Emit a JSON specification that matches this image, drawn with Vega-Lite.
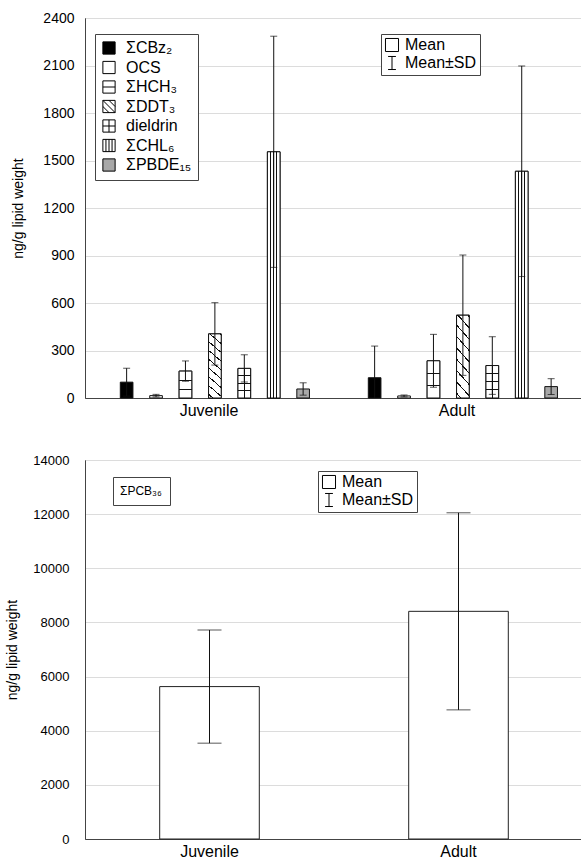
{
  "$schema": "https://vega.github.io/schema/vega-lite/v6.json",
  "padding": {"left": 5, "top": 10, "right": 0, "bottom": 0},
  "background": "white",
  "config": {
    "font": "Liberation Sans",
    "view": {"stroke": "#444", "strokeWidth": 1},
    "axis": {"labelFont": "Liberation Sans", "titleFont": "Liberation Sans", "labelColor": "#000", "titleColor": "#000", "domainColor": "#444", "titleFontWeight": "normal", "gridColor": "#dcdcdc", "ticks": false},
    "legend": {"labelFont": "Liberation Sans", "labelColor": "#000", "strokeColor": "#444", "fillColor": "white"}
  },
  "columns": 1,
  "spacing": 34,
  "align": "none",
  "resolve": {"scale": {"fill": "independent", "shape": "independent"}, "legend": {"fill": "independent", "shape": "independent"}},
  "concat": [
    {
      "width": 496,
      "height": 380,
      "data": {"values": [
        {"group": "Juvenile", "compound": "ΣCBz₂", "mean": 100, "lo": 12, "hi": 188},
        {"group": "Juvenile", "compound": "OCS", "mean": 15, "lo": 7, "hi": 23},
        {"group": "Juvenile", "compound": "ΣHCH₃", "mean": 170, "lo": 106, "hi": 234},
        {"group": "Juvenile", "compound": "ΣDDT₃", "mean": 405, "lo": 208, "hi": 602},
        {"group": "Juvenile", "compound": "dieldrin", "mean": 187, "lo": 101, "hi": 273},
        {"group": "Juvenile", "compound": "ΣCHL₆", "mean": 1555, "lo": 825, "hi": 2285},
        {"group": "Juvenile", "compound": "ΣPBDE₁₅", "mean": 57, "lo": 18, "hi": 96},
        {"group": "Adult", "compound": "ΣCBz₂", "mean": 128, "lo": 0, "hi": 328},
        {"group": "Adult", "compound": "OCS", "mean": 13, "lo": 7, "hi": 19},
        {"group": "Adult", "compound": "ΣHCH₃", "mean": 235, "lo": 68, "hi": 402},
        {"group": "Adult", "compound": "ΣDDT₃", "mean": 523, "lo": 143, "hi": 903},
        {"group": "Adult", "compound": "dieldrin", "mean": 205, "lo": 23, "hi": 387},
        {"group": "Adult", "compound": "ΣCHL₆", "mean": 1432, "lo": 767, "hi": 2097},
        {"group": "Adult", "compound": "ΣPBDE₁₅", "mean": 72, "lo": 22, "hi": 122}
      ]},
      "resolve": {"scale": {"shape": "independent", "fill": "independent"}, "legend": {"shape": "independent", "fill": "independent"}},
      "layer": [
        {
          "encoding": {
            "x": {"field": "group", "type": "nominal", "sort": ["Juvenile", "Adult"], "scale": {"paddingInner": 0, "paddingOuter": 0}, "axis": {"title": null, "labelAngle": 0, "labelFontSize": 16, "labelPadding": 4, "grid": false}},
            "xOffset": {"field": "compound", "type": "nominal", "scale": {"domain": ["ΣCBz₂", "OCS", "ΣHCH₃", "ΣDDT₃", "dieldrin", "ΣCHL₆", "ΣPBDE₁₅"], "paddingInner": 0.57, "paddingOuter": 1.06, "align": 0.6}},
            "y": {"field": "mean", "type": "quantitative", "title": "ng/g lipid weight", "scale": {"domain": [0, 2400], "nice": false}, "axis": {"values": [0, 300, 600, 900, 1200, 1500, 1800, 2100, 2400], "format": "d", "grid": true, "labelFontSize": 14, "titleFontSize": 14, "labelPadding": 11, "titlePadding": 17}}
          },
          "layer": [
            {
              "mark": {"type": "bar", "stroke": "#111", "strokeWidth": 1},
              "encoding": {
                "fill": {"field": "compound", "type": "nominal",
                  "scale": {"domain": ["ΣCBz₂", "OCS", "ΣHCH₃", "ΣDDT₃", "dieldrin", "ΣCHL₆", "ΣPBDE₁₅"], "range": ["#000000", "#ffffff", "#ffffff", "#ffffff", "#ffffff", "#ffffff", "#a8a8a8"]},
                  "legend": {"title": null, "orient": "none", "legendX": 10, "legendY": 16, "symbolSize": 150, "symbolStrokeColor": "#000", "symbolStrokeWidth": 1, "symbolFillColor": "white", "symbolOpacity": 1, "rowPadding": 1.5, "labelOffset": 9, "padding": 6, "labelFontSize": 16}}
              }
            },
            {
              "transform": [{"filter": {"field": "compound", "equal": "ΣHCH₃"}}],
              "mark": {"type": "bar", "stroke": "#111", "strokeWidth": 1,
                "fill": {"gradient": "linear", "x1": 0, "y1": 0, "x2": 0, "y2": 1, "stops": [
                  {"offset": 0, "color": "#fff"}, {"offset": 0.324, "color": "#fff"}, {"offset": 0.324, "color": "#111"}, {"offset": 0.356, "color": "#111"}, {"offset": 0.356, "color": "#fff"},
                  {"offset": 0.654, "color": "#fff"}, {"offset": 0.654, "color": "#111"}, {"offset": 0.686, "color": "#111"}, {"offset": 0.686, "color": "#fff"}, {"offset": 1, "color": "#fff"}]}}
            },
            {
              "transform": [{"filter": {"field": "compound", "equal": "dieldrin"}}],
              "mark": {"type": "bar", "stroke": "#111", "strokeWidth": 1,
                "fill": {"gradient": "linear", "x1": 0, "y1": 0, "x2": 0, "y2": 1, "stops": [
                  {"offset": 0, "color": "#fff"}, {"offset": 0.234, "color": "#fff"}, {"offset": 0.234, "color": "#111"}, {"offset": 0.266, "color": "#111"}, {"offset": 0.266, "color": "#fff"},
                  {"offset": 0.484, "color": "#fff"}, {"offset": 0.484, "color": "#111"}, {"offset": 0.516, "color": "#111"}, {"offset": 0.516, "color": "#fff"},
                  {"offset": 0.734, "color": "#fff"}, {"offset": 0.734, "color": "#111"}, {"offset": 0.766, "color": "#111"}, {"offset": 0.766, "color": "#fff"}, {"offset": 1, "color": "#fff"}]}}
            },
            {
              "transform": [{"filter": {"field": "compound", "equal": "dieldrin"}}],
              "mark": {"type": "bar", "strokeWidth": 0,
                "fill": {"gradient": "linear", "x1": 0, "y1": 0, "x2": 1, "y2": 0, "stops": [
                  {"offset": 0, "color": "rgba(0,0,0,0)"}, {"offset": 0.46, "color": "rgba(0,0,0,0)"}, {"offset": 0.46, "color": "#111"}, {"offset": 0.54, "color": "#111"}, {"offset": 0.54, "color": "rgba(0,0,0,0)"}, {"offset": 1, "color": "rgba(0,0,0,0)"}]}}
            },
            {
              "transform": [{"filter": {"field": "compound", "equal": "ΣCHL₆"}}],
              "mark": {"type": "bar", "stroke": "#111", "strokeWidth": 1,
                "fill": {"gradient": "linear", "x1": 0, "y1": 0, "x2": 1, "y2": 0, "stops": [
                  {"offset": 0, "color": "#fff"}, {"offset": 0.23, "color": "#fff"}, {"offset": 0.23, "color": "#111"}, {"offset": 0.31, "color": "#111"}, {"offset": 0.31, "color": "#fff"},
                  {"offset": 0.46, "color": "#fff"}, {"offset": 0.46, "color": "#111"}, {"offset": 0.54, "color": "#111"}, {"offset": 0.54, "color": "#fff"},
                  {"offset": 0.69, "color": "#fff"}, {"offset": 0.69, "color": "#111"}, {"offset": 0.77, "color": "#111"}, {"offset": 0.77, "color": "#fff"}, {"offset": 1, "color": "#fff"}]}}
            },
            {
              "transform": [{"filter": {"field": "compound", "equal": "ΣDDT₃"}}],
              "mark": {"type": "bar", "stroke": "#111", "strokeWidth": 1,
                "fill": {"gradient": "linear", "x1": 0, "y1": 1, "x2": 0.195, "y2": -0.138, "stops": [
                  {"offset": 0, "color": "#fff"},
                  {"offset": 0.042, "color": "#fff"}, {"offset": 0.042, "color": "#111"}, {"offset": 0.058, "color": "#111"}, {"offset": 0.058, "color": "#fff"},
                  {"offset": 0.159, "color": "#fff"}, {"offset": 0.159, "color": "#111"}, {"offset": 0.175, "color": "#111"}, {"offset": 0.175, "color": "#fff"},
                  {"offset": 0.276, "color": "#fff"}, {"offset": 0.276, "color": "#111"}, {"offset": 0.292, "color": "#111"}, {"offset": 0.292, "color": "#fff"},
                  {"offset": 0.393, "color": "#fff"}, {"offset": 0.393, "color": "#111"}, {"offset": 0.409, "color": "#111"}, {"offset": 0.409, "color": "#fff"},
                  {"offset": 0.510, "color": "#fff"}, {"offset": 0.510, "color": "#111"}, {"offset": 0.526, "color": "#111"}, {"offset": 0.526, "color": "#fff"},
                  {"offset": 0.627, "color": "#fff"}, {"offset": 0.627, "color": "#111"}, {"offset": 0.643, "color": "#111"}, {"offset": 0.643, "color": "#fff"},
                  {"offset": 0.744, "color": "#fff"}, {"offset": 0.744, "color": "#111"}, {"offset": 0.760, "color": "#111"}, {"offset": 0.760, "color": "#fff"},
                  {"offset": 0.861, "color": "#fff"}, {"offset": 0.861, "color": "#111"}, {"offset": 0.877, "color": "#111"}, {"offset": 0.877, "color": "#fff"},
                  {"offset": 0.978, "color": "#fff"}, {"offset": 0.978, "color": "#111"}, {"offset": 0.994, "color": "#111"}, {"offset": 0.994, "color": "#fff"},
                  {"offset": 1, "color": "#fff"}]}}
            },
            {
              "mark": {"type": "rule", "color": "#111", "strokeWidth": 1},
              "encoding": {"y": {"field": "lo", "type": "quantitative", "title": "ng/g lipid weight"}, "y2": {"field": "hi"}}
            },
            {
              "mark": {"type": "tick", "color": "#111", "size": 7, "thickness": 1},
              "encoding": {"y": {"field": "hi", "type": "quantitative", "title": "ng/g lipid weight"}}
            },
            {
              "transform": [{"filter": "datum.lo > 0"}],
              "mark": {"type": "tick", "color": "#111", "size": 7, "thickness": 1},
              "encoding": {"y": {"field": "lo", "type": "quantitative", "title": "ng/g lipid weight"}}
            },
            {
              "mark": {"type": "point", "opacity": 0, "filled": true},
              "encoding": {
                "fill": {"field": "compound", "type": "nominal",
                  "scale": {"domain": ["ΣCBz₂", "OCS", "ΣHCH₃", "ΣDDT₃", "dieldrin", "ΣCHL₆", "ΣPBDE₁₅"], "range": ["#000000", "#ffffff", "#ffffff", "#ffffff", "#ffffff", "#ffffff", "#a8a8a8"]},
                  "legend": {"title": null, "orient": "none", "legendX": 10, "legendY": 16, "symbolSize": 150, "symbolStrokeColor": "#000", "symbolStrokeWidth": 1, "symbolFillColor": "white", "symbolOpacity": 1, "rowPadding": 1.5, "labelOffset": 9, "padding": 6, "labelFontSize": 16}},
                "shape": {"field": "compound", "type": "nominal",
                  "scale": {"domain": ["ΣCBz₂", "OCS", "ΣHCH₃", "ΣDDT₃", "dieldrin", "ΣCHL₆", "ΣPBDE₁₅"],
                    "range": ["square", "square", "M-1,-1H1V1H-1ZM-1,0H1", "M-1,-1H1V1H-1ZM-1,-1L1,1M-1,0L0,1M0,-1L1,0", "M-1,-1H1V1H-1ZM-1,0H1M0,-1V1", "M-1,-1H1V1H-1ZM-0.5,-1V1M0,-1V1M0.5,-1V1", "square"]},
                  "legend": {"title": null, "orient": "none", "legendX": 10, "legendY": 16, "symbolSize": 150, "symbolStrokeColor": "#000", "symbolStrokeWidth": 1, "symbolFillColor": "white", "symbolOpacity": 1, "rowPadding": 1.5, "labelOffset": 9, "padding": 6, "labelFontSize": 16}}
              }
            }
          ]
        },
        {
          "data": {"values": [{"k": "Mean"}, {"k": "Mean±SD"}]},
          "mark": {"type": "point", "opacity": 0, "filled": false, "color": "#000"},
          "encoding": {
            "shape": {"field": "k", "type": "nominal",
              "scale": {"domain": ["Mean", "Mean±SD"], "range": ["square", "M-0.6,-1H0.6M0,-1V1M-0.6,1H0.6"]},
              "legend": {"title": null, "orient": "none", "legendX": 296, "legendY": 16, "symbolSize": 170, "symbolStrokeColor": "#000", "symbolFillColor": "white", "symbolStrokeWidth": 1, "symbolOpacity": 1, "labelFontSize": 16, "padding": 3, "rowPadding": 0, "labelOffset": 5}}
          }
        }
      ]
    },
    {
      "width": 498,
      "height": 379,
      "resolve": {"scale": {"shape": "independent", "fill": "independent"}, "legend": {"shape": "independent", "fill": "independent"}},
      "layer": [
        {
          "data": {"values": [
            {"group": "Juvenile", "compound": "ΣPCB₃₆", "mean": 5630, "lo": 3540, "hi": 7720},
            {"group": "Adult", "compound": "ΣPCB₃₆", "mean": 8410, "lo": 4770, "hi": 12050}
          ]},
          "encoding": {
            "x": {"field": "group", "type": "nominal", "sort": ["Juvenile", "Adult"], "scale": {"paddingInner": 0, "paddingOuter": 0}, "axis": {"title": null, "labelAngle": 0, "labelFontSize": 16, "labelPadding": 4, "grid": false}},
            "y": {"field": "mean", "type": "quantitative", "title": "ng/g lipid weight", "scale": {"domain": [0, 14000], "nice": false}, "axis": {"values": [0, 2000, 4000, 6000, 8000, 10000, 12000, 14000], "format": "d", "grid": true, "labelFontSize": 13, "titleFontSize": 14, "labelPadding": 16, "titlePadding": 13}}
          },
          "layer": [
            {
              "mark": {"type": "bar", "width": {"band": 0.4}, "stroke": "#222", "strokeWidth": 1},
              "encoding": {
                "fill": {"field": "compound", "type": "nominal", "scale": {"range": ["#ffffff"]},
                  "legend": {"title": null, "orient": "none", "legendX": 28, "legendY": 17, "symbolSize": 1, "symbolStrokeWidth": 0, "symbolOpacity": 0, "labelOffset": -13, "padding": 8, "labelFontSize": 12}}
              }
            },
            {
              "mark": {"type": "rule", "color": "#111", "strokeWidth": 1},
              "encoding": {"y": {"field": "lo", "type": "quantitative", "title": "ng/g lipid weight"}, "y2": {"field": "hi"}}
            },
            {
              "mark": {"type": "tick", "color": "#111", "size": 24, "thickness": 1},
              "encoding": {"y": {"field": "hi", "type": "quantitative", "title": "ng/g lipid weight"}}
            },
            {
              "mark": {"type": "tick", "color": "#111", "size": 24, "thickness": 1},
              "encoding": {"y": {"field": "lo", "type": "quantitative", "title": "ng/g lipid weight"}}
            }
          ]
        },
        {
          "data": {"values": [{"k": "Mean"}, {"k": "Mean±SD"}]},
          "mark": {"type": "point", "opacity": 0, "filled": false, "color": "#000"},
          "encoding": {
            "shape": {"field": "k", "type": "nominal",
              "scale": {"domain": ["Mean", "Mean±SD"], "range": ["square", "M-0.6,-1H0.6M0,-1V1M-0.6,1H0.6"]},
              "legend": {"title": null, "orient": "none", "legendX": 233, "legendY": 11, "symbolSize": 170, "symbolStrokeColor": "#000", "symbolFillColor": "white", "symbolStrokeWidth": 1, "symbolOpacity": 1, "labelFontSize": 16, "padding": 3, "rowPadding": 0, "labelOffset": 5}}
          }
        }
      ]
    }
  ]
}
